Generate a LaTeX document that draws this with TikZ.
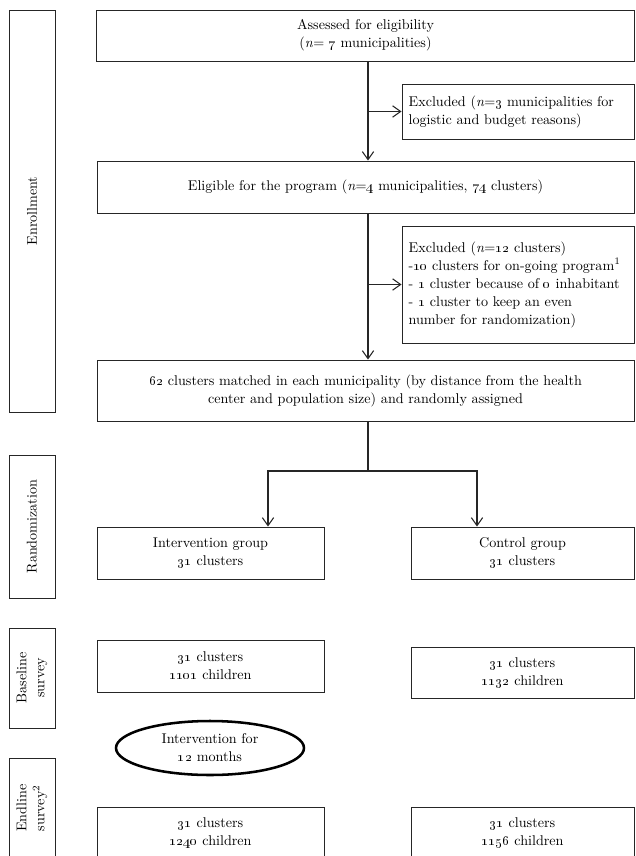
\RequirePackage{fix-cm}
\documentclass[tikz,border=0pt]{standalone}
\usetikzlibrary{arrows.meta}
\usetikzlibrary{shapes.geometric}

\tikzset{
  box/.style 2 args={draw=black!85, line width=0.7pt, minimum width=#1*0.75pt,
    minimum height=#2*0.75pt, inner sep=0pt, align=center,
    font=\fontsize{10.6}{13.5}\selectfont},
  exbox/.style 2 args={box={#1}{#2}, align=left, inner xsep=5pt},
  lbl/.style 2 args={box={#2}{#1}, rotate=90},
  oval/.style={ellipse, draw=black, line width=1.9pt, minimum width=188*0.75pt,
    minimum height=54*0.75pt, inner sep=0pt, align=center,
    font=\fontsize{10.6}{13.5}\selectfont},
  arr/.style={-{Straight Barb[length=6pt, width=8.5pt]}, draw=black!85, line width=0.8pt},
  link/.style={draw=black!85, line width=0.8pt}
}

\begin{document}
\begin{tikzpicture}[x=0.75pt, y=-0.75pt]
\useasboundingbox (0,0) rectangle (635,856);

% stage labels
\node[lbl={46}{402}] (enroll) at (32,211) {Enrollment};
\node[lbl={46}{143}] (rand) at (32,526.5) {Randomization};
\node[lbl={46}{100}] (base) at (32,678) {Baseline\\survey};
\node[lbl={46}{100}] (endl) at (32,808) {Endline\\survey\textsuperscript{2}};

% enrollment
\node[box={538}{51}] (assess) at (365.5,35.5)
  {Assessed for eligibility\\(\textit{n}= \oldstylenums{7} municipalities)};
\node[exbox={232}{55}, text width=164pt] (excl1) at (518,111.5)
  {Excluded (\textit{n}=\oldstylenums{3} municipalities for\\logistic and budget reasons)};
\node[box={537}{52}] (elig) at (365.5,187)
  {Eligible for the program (\textit{n}=\oldstylenums{4} municipalities, \oldstylenums{74} clusters)};
\node[exbox={232}{117}, text width=164pt] (excl2) at (518,284.5)
  {Excluded (\textit{n}=\oldstylenums{12} clusters)\\
   -\oldstylenums{10} clusters for on-going program\textsuperscript{1}\\
   - \oldstylenums{1} cluster because of \oldstylenums{0} inhabitant\\
   - \oldstylenums{1} cluster to keep an even\\
   number for randomization)};
\node[box={537}{61}] (match) at (365.5,390.5)
  {\oldstylenums{62} clusters matched in each municipality (by distance from the health\\
   center and population size) and randomly assigned};

% groups
\node[box={227}{52}] (interv) at (210.5,553) {Intervention group\\\oldstylenums{31} clusters};
\node[box={223}{52}] (ctrl) at (522.5,553) {Control group\\\oldstylenums{31} clusters};

\node[box={227}{52}] (base1) at (210.5,666) {\oldstylenums{31} clusters\\\oldstylenums{1101} children};
\node[box={223}{51}] (base2) at (522.5,672.5) {\oldstylenums{31} clusters\\\oldstylenums{1132} children};

\node[oval] (treat) at (210,748) {Intervention for\\\oldstylenums{12} months};

\node[box={227}{52}] (end1) at (210.5,833) {\oldstylenums{31} clusters\\\oldstylenums{1240} children};
\node[box={223}{52}] (end2) at (522.5,833) {\oldstylenums{31} clusters\\\oldstylenums{1156} children};

% connectors
\coordinate (spine) at (368,0);
\coordinate (fork) at (368,471);
\coordinate (forkL) at (268,471);
\coordinate (forkR) at (477,471);

\draw[arr] (assess.south -| spine) -- (elig.north -| spine);
\draw[arr] (excl1.west -| spine) -- (excl1.west);
\draw[arr] (elig.south -| spine) -- (match.north -| spine);
\draw[arr] (excl2.west -| spine) -- (excl2.west);
\draw[link] (match.south -| spine) -- (fork);
\draw[arr] (fork) -- (forkL) -- (interv.north -| forkL);
\draw[arr] (fork) -- (forkR) -- (ctrl.north -| forkR);
\end{tikzpicture}
\end{document}
